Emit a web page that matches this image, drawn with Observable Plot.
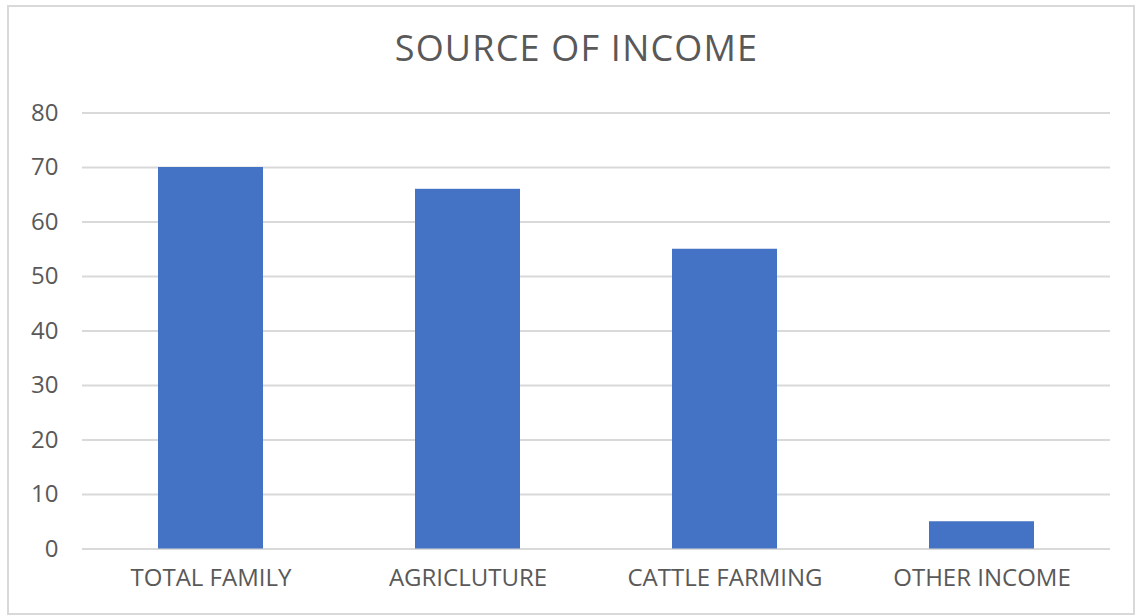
<!DOCTYPE html>
<html><head><meta charset="utf-8">
<script src="https://cdn.jsdelivr.net/npm/d3@7"></script>
<script src="https://cdn.jsdelivr.net/npm/@observablehq/plot@0.6"></script>
<style>
body{margin:0;background:#fff;font-family:"Open Sans",sans-serif;}
#frame{position:absolute;left:7px;top:5px;width:1124px;height:606px;border:2px solid #d9d9d9;}
#title{position:absolute;left:0;top:26px;width:1153px;text-align:center;font-size:36px;color:#595959;letter-spacing:1.2px;line-height:1.2;}
#chart{position:absolute;left:0;top:90px;}
</style></head>
<body>
<div id="frame"></div>
<div id="title">SOURCE OF INCOME</div>
<div id="chart"></div>
<script>
const categories = ["TOTAL FAMILY","AGRICLUTURE","CATTLE FARMING","OTHER INCOME"];
const values = [70, 66, 55, 5];
const yTicks = [0,10,20,30,40,50,60,70,80];

const data = categories.map((c,i)=>({category:c, value:values[i]}));

const plot = Plot.plot({
  width: 1137,
  height: 526,
  marginTop: 22.5,
  marginBottom: 67.5,
  marginLeft: 82,
  marginRight: 27,
  style: {fontFamily: '"Open Sans", sans-serif', fontSize: "22px", color: "#595959", background: "transparent"},
  x: {domain: categories, paddingInner: 0.59, paddingOuter: 0.295, label: null},
  y: {domain: [0, 80], label: null},
  marks: [
    Plot.ruleY(yTicks, {stroke: "#d9d9d9", strokeWidth: 1.8}),
    Plot.barY(data, {x: "category", y: "value", fill: "#4472C4"}),
    Plot.axisY({ticks: yTicks, tickSize: 0, tickPadding: 24, label: null, fontSize: 24, style: {letterSpacing: "1.8px"}}),
    Plot.axisX({tickSize: 0, tickPadding: 20, label: null, fontSize: 24, style: {letterSpacing: "0.5px"}})
  ]
});
document.getElementById("chart").appendChild(plot);
</script>
</body></html>
